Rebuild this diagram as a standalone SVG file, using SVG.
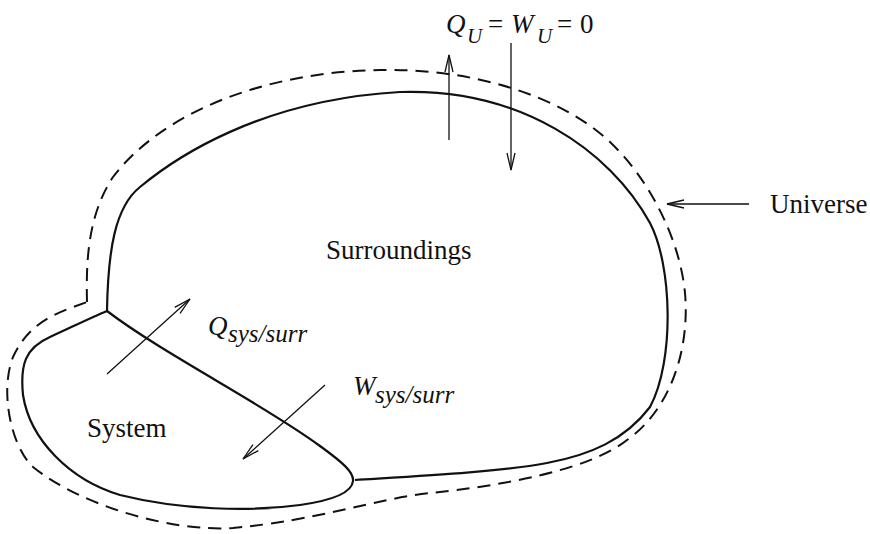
<svg xmlns="http://www.w3.org/2000/svg" width="870" height="534" viewBox="0 0 870 534">
<style>
.bd{fill:none;stroke:#111;stroke-width:2.2;stroke-linejoin:round}
.dash{fill:none;stroke:#111;stroke-width:2;stroke-dasharray:13 8}
.ar{fill:none;stroke:#111;stroke-width:1.3;marker-end:url(#ah)}
text{font-family:"Liberation Serif","Times New Roman",serif;font-size:27px;fill:#111}
.it{font-style:italic}
</style>
<defs>
<marker id="ah" markerUnits="userSpaceOnUse" viewBox="-20 -6 22 12" refX="0" refY="0" markerWidth="22" markerHeight="12" orient="auto">
<path d="M-17,-4 L0,0 L-17,4" fill="none" stroke="#111" stroke-width="1.3"/>
</marker>
</defs>
<rect width="870" height="534" fill="#fff"/>
<g id="universe">
<path class="dash" d="M87,302 C86,260 88,215 113,177 C160,115 260,72 380,70 C470,68 560,95 610,142 C650,180 680,240 685,293 C690,350 670,410 627,440 C590,470 500,486 430,493 C370,500 320,520 233,528 C170,532 80,505 33,467 C10,445 0,390 13,357 C30,320 60,312 87,302 Z"/>
<text x="770" y="213">Universe</text>
</g>
<g id="surroundings">
<path class="bd" d="M107,311 C108,250 115,207 140,187 C175,158 260,100 400,92 C520,88 610,150 650,223 C672,265 675,360 650,407 C625,440 590,455 547,463 C500,472 420,476 355,480"/>
<text x="326" y="259">Surroundings</text>
</g>
<g id="system">
<path class="bd" d="M107,311 C165,355 265,405 320,446 C342,462 354,472 353,481 C352,492 335,500 300,505 C250,512 180,510 120,495 C70,480 30,440 23,395 C20,365 25,348 50,337 C70,328 90,318 107,311 Z"/>
<text x="87" y="437">System</text>
</g>
<g id="connectors">
<line class="ar" x1="449" y1="140" x2="449" y2="55"/>
<line class="ar" x1="511" y1="43" x2="511" y2="170"/>
<line class="ar" x1="107" y1="374" x2="190" y2="299"/>
<line class="ar" x1="325" y1="385" x2="243" y2="459"/>
<line class="ar" x1="749" y1="204" x2="667" y2="204"/>
</g>
<g id="labels">
<text y="33"><tspan x="446" class="it">Q</tspan><tspan x="467" y="43" class="it" font-size="21">U</tspan><tspan x="488" y="33">=</tspan><tspan x="511" class="it">W</tspan><tspan x="537" y="43" class="it" font-size="21">U</tspan><tspan x="557" y="33">=</tspan><tspan x="580">0</tspan></text>
<text y="335"><tspan x="208" class="it">Q</tspan><tspan x="228" y="342" class="it" font-size="25">sys/surr</tspan></text>
<text y="395"><tspan x="353" class="it">W</tspan><tspan x="375" y="403" class="it" font-size="25">sys/surr</tspan></text>
</g>
</svg>
